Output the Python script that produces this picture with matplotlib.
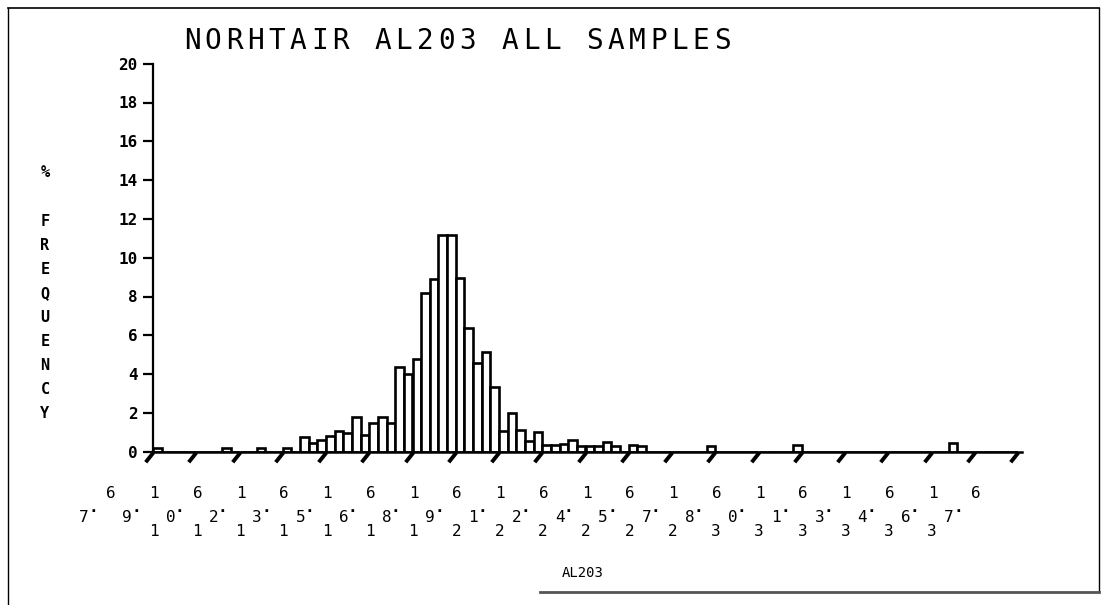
"""
NORHTAIR AL203 - % frequency histogram, old pen-plotter look
"""
import matplotlib
matplotlib.use('Agg')
import matplotlib.pyplot as plt
import numpy as np
from matplotlib.lines import Line2D
from matplotlib.path import Path

W, H = 1111, 605

# ── data: 0.3-wide bins starting at 7.6 ──
bin_start = 7.6
bin_width = 0.3
freq = [
    0.2, 0, 0, 0, 0, 0, 0, 0, 0.2, 0,          # 7.6 ..
    0, 0, 0.2, 0, 0, 0.2, 0, 0.75, 0.45, 0.6,
    0.8, 1.05, 0.95, 1.8, 0.85, 1.5, 1.8, 1.5, 4.35, 4.0,
    4.8, 8.2, 8.9, 11.15, 11.15, 8.95, 6.4, 4.55, 5.15, 3.35,
    1.05, 2.0, 1.1, 0.55, 1.0, 0.35, 0.35, 0.4, 0.6, 0.3,
    0.3, 0.3, 0.5, 0.3, 0, 0.35, 0.3, 0, 0, 0,
    0, 0, 0, 0, 0.3, 0, 0, 0, 0, 0,
    0, 0, 0, 0, 0.35, 0, 0, 0, 0, 0,
    0, 0, 0, 0, 0, 0, 0, 0, 0, 0,
    0, 0, 0.45, 0, 0, 0, 0, 0, 0, 0,
]
x_ticks = [7.6 + 1.5 * i for i in range(21)]
y_ticks = list(range(0, 21, 2))
title = 'NORHTAIR AL203 ALL SAMPLES'
ylabel = ['%', 'F', 'R', 'E', 'Q', 'U', 'E', 'N', 'C', 'Y']
xlabel = 'AL203'

MONO = 'DejaVu Sans Mono'

def fx(px):
    return px / W

def fy(py):
    return 1 - py / H

fig = plt.figure(figsize=(W / 100, H / 100), dpi=100)
fig.patch.set_facecolor('white')

# ── plot area (pixel box: x 153..1018, y 451.7..63.7) ──
ax = fig.add_axes([fx(153), fy(451.7), 865 / W, 388 / H])
ax.set_xlim(7.6, 37.6)
ax.set_ylim(0, 20)
for s in ['top', 'right', 'bottom']:
    ax.spines[s].set_visible(False)
ax.spines['left'].set_linewidth(1.6)
ax.set_xticks([])
ax.set_yticks(y_ticks)
ax.tick_params(axis='y', direction='out', length=7, width=1.6, pad=4)
for lab in ax.get_yticklabels():
    lab.set_fontfamily(MONO)
    lab.set_fontsize(11.5)
    lab.set_fontweight('bold')

lefts = [bin_start + i * bin_width for i in range(len(freq))]
ax.bar(lefts, freq, width=bin_width, align='edge', facecolor='white',
       edgecolor='black', linewidth=1.9, zorder=2)

# x axis line, a bit past the last tick
ax.plot([7.6, 37.75], [0, 0], color='black', lw=1.8, clip_on=False, zorder=3)

# slanted "/" tick marks hanging below the axis
slash = Path([(-0.8, -1.0), (0.0, 0.0)], [Path.MOVETO, Path.LINETO])
ax.plot(x_ticks, [0] * len(x_ticks), linestyle='none', marker=slash,
        markersize=14, markeredgewidth=2.8, color='black', clip_on=False, zorder=3)

# ── x tick labels: plotter style, characters stepped up along a diagonal ──
fs_lab = 11.5
for k, v in enumerate(x_ticks):
    xk = 153 + 43.25 * k
    whole, frac = f'{v:.1f}'.split('.')
    if len(whole) == 2:
        fig.text(fx(xk - 86), fy(531), whole[0], ha='center', va='center',
                 fontsize=fs_lab, family=MONO)
    fig.text(fx(xk - 69), fy(517), whole[-1], ha='center', va='center',
             fontsize=fs_lab, family=MONO)
    fig.text(fx(xk - 60), fy(512), '·', ha='center', va='center',
             fontsize=fs_lab, family=MONO, fontweight='bold')
    fig.text(fx(xk - 42), fy(494), frac, ha='center', va='center',
             fontsize=fs_lab, family=MONO)

# ── titles ──
for i, ch in enumerate(title):
    fig.text(fx(192 + i * 21.2), fy(41), ch, ha='center', va='center',
             fontsize=20, family=MONO)

y0 = 172
for i, ch in enumerate(ylabel):
    yy = y0 if i == 0 else 222 + (i - 1) * 23.9
    fig.text(fx(45), fy(yy), ch, ha='center', va='center', fontsize=11,
             family=MONO, fontweight='bold')

fig.text(fx(583), fy(573), xlabel, ha='center', va='center', fontsize=10,
         family=MONO)

# ── paper frame ──
frame = [
    ([8, 1099], [8, 8], 1.2, 'black'),
    ([8, 8], [8, 605], 1.0, 'black'),
    ([1099, 1099], [8, 592], 1.0, 'black'),
    ([540, 1099], [592, 592], 2.0, '#555555'),
]
for xs, ys, lw, c in frame:
    fig.add_artist(Line2D([fx(x) for x in xs], [fy(y) for y in ys], lw=lw,
                          color=c, transform=fig.transFigure))

plt.savefig('out.png', dpi=100, facecolor='white')
plt.close()
